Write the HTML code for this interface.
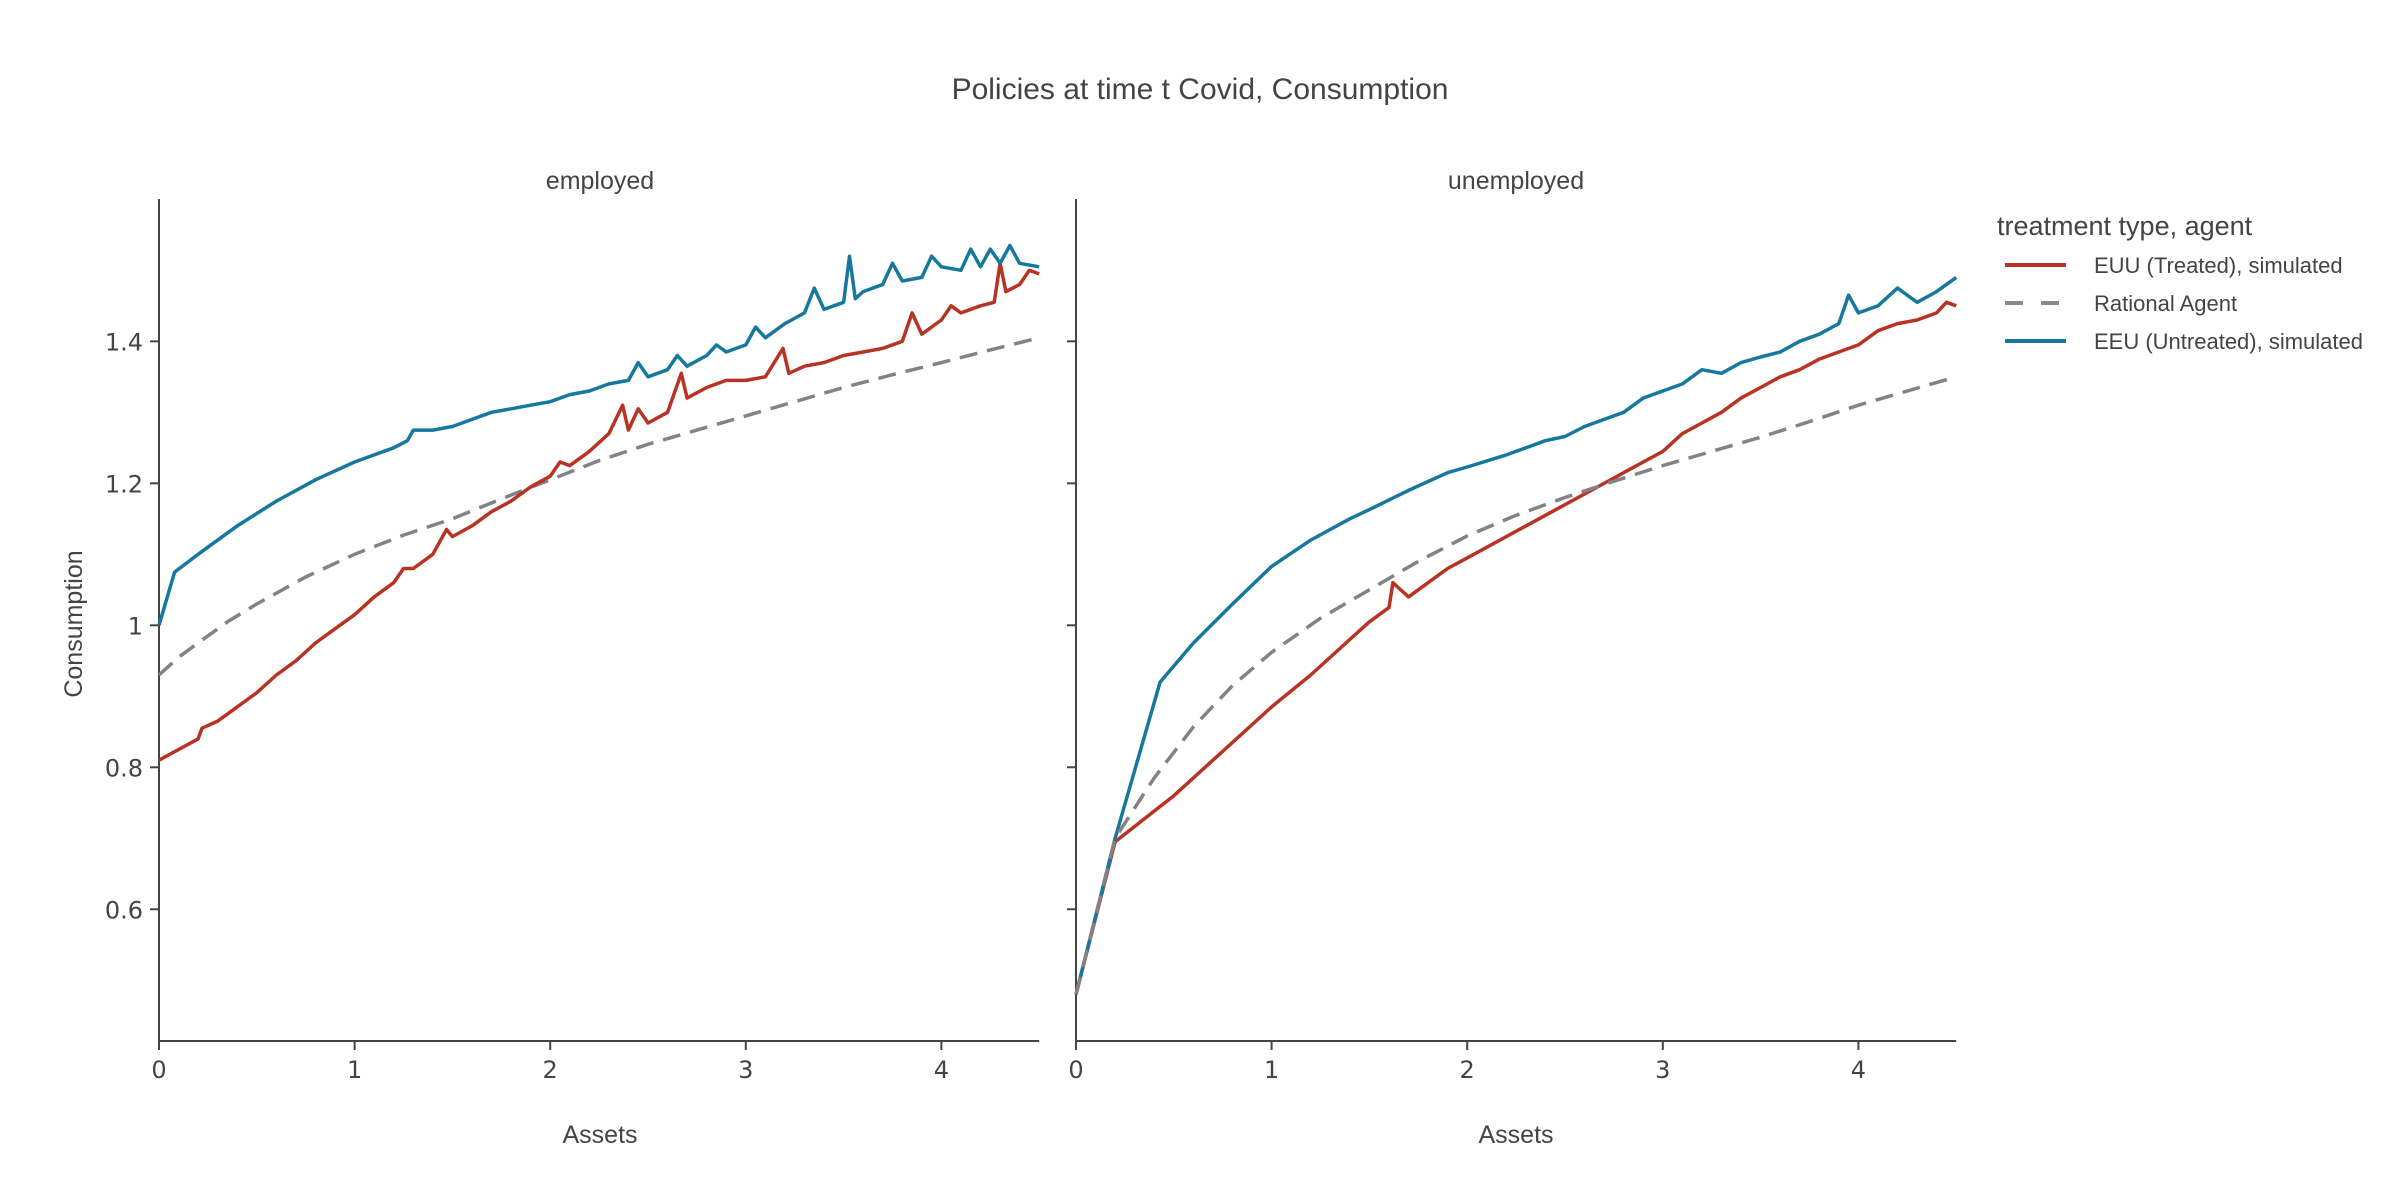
<!DOCTYPE html>
<html><head><meta charset="utf-8">
<style>
html,body{margin:0;padding:0;background:#fff;}
svg{display:block;font-family:"Liberation Sans",sans-serif;}
</style></head>
<body>
<svg id="chart" width="2400" height="1200" viewBox="0 0 2400 1200" xmlns="http://www.w3.org/2000/svg">
<text x="1200" y="99" text-anchor="middle" font-size="30" fill="#444">Policies at time t Covid, Consumption</text>
<text x="600" y="189" text-anchor="middle" font-size="25" fill="#444">employed</text>
<text x="1516" y="189" text-anchor="middle" font-size="25" fill="#444">unemployed</text>
<text x="0" y="0" transform="translate(82,624) rotate(-90)" text-anchor="middle" font-size="25" fill="#444">Consumption</text>
<text x="600" y="1143" text-anchor="middle" font-size="25" fill="#444">Assets</text>
<text x="1516" y="1143" text-anchor="middle" font-size="25" fill="#444">Assets</text>
<g id="legend">
<text x="1997" y="235" font-size="27" fill="#444">treatment type, agent</text>
<g>
<line x1="2005" y1="265" x2="2066" y2="265" stroke="#b83323" stroke-width="4"/>
<text x="2094" y="273" font-size="22" fill="#444">EUU (Treated), simulated</text></g>
<g>
<line x1="2005" y1="303" x2="2066" y2="303" stroke="#8a8a8a" stroke-width="4" stroke-dasharray="18,18"/>
<text x="2094" y="311" font-size="22" fill="#444">Rational Agent</text></g>
<g>
<line x1="2005" y1="341" x2="2066" y2="341" stroke="#17789e" stroke-width="4"/>
<text x="2094" y="349" font-size="22" fill="#444">EEU (Untreated), simulated</text></g>
</g>
</svg>
<script>
// Data
const xTicks = [0,1,2,3,4];
const yTicks = [0.6,0.8,1,1.2,1.4];
const yTickLabels = ["0.6","0.8","1","1.2","1.4"];

const empEUU_x = [0,0.1,0.2,0.22,0.3,0.4,0.5,0.6,0.7,0.8,0.9,1.0,1.1,1.2,1.25,1.3,1.4,1.47,1.5,1.6,1.7,1.8,1.9,2.0,2.05,2.1,2.2,2.3,2.37,2.4,2.45,2.5,2.6,2.67,2.7,2.8,2.9,3.0,3.1,3.19,3.22,3.3,3.4,3.5,3.6,3.7,3.8,3.85,3.9,4.0,4.05,4.1,4.2,4.27,4.3,4.33,4.4,4.45,4.5];
const empEUU_y = [0.81,0.825,0.84,0.855,0.865,0.885,0.905,0.93,0.95,0.975,0.995,1.015,1.04,1.06,1.08,1.08,1.10,1.135,1.125,1.14,1.16,1.175,1.195,1.21,1.23,1.225,1.245,1.27,1.31,1.275,1.305,1.285,1.30,1.355,1.32,1.335,1.345,1.345,1.35,1.39,1.355,1.365,1.37,1.38,1.385,1.39,1.40,1.44,1.41,1.43,1.45,1.44,1.45,1.455,1.51,1.47,1.48,1.50,1.495];

const empRat_x = [0,0.1,0.2,0.35,0.5,0.75,1.0,1.25,1.5,1.75,2.0,2.25,2.5,2.75,3.0,3.25,3.5,3.75,4.0,4.25,4.5];
const empRat_y = [0.93,0.955,0.975,1.005,1.03,1.068,1.10,1.127,1.15,1.178,1.205,1.232,1.255,1.275,1.295,1.315,1.335,1.353,1.37,1.388,1.405];

const empEEU_x = [0,0.08,0.2,0.4,0.6,0.8,1.0,1.1,1.2,1.27,1.3,1.4,1.5,1.6,1.7,1.8,1.9,2.0,2.1,2.2,2.3,2.4,2.45,2.5,2.6,2.65,2.7,2.8,2.85,2.9,3.0,3.05,3.1,3.2,3.3,3.35,3.4,3.5,3.53,3.56,3.6,3.7,3.75,3.8,3.9,3.95,4.0,4.1,4.15,4.2,4.25,4.3,4.35,4.4,4.5];
const empEEU_y = [1.0,1.075,1.10,1.14,1.175,1.205,1.23,1.24,1.25,1.26,1.275,1.275,1.28,1.29,1.30,1.305,1.31,1.315,1.325,1.33,1.34,1.345,1.37,1.35,1.36,1.38,1.365,1.38,1.395,1.385,1.395,1.42,1.405,1.425,1.44,1.475,1.445,1.455,1.52,1.46,1.47,1.48,1.51,1.485,1.49,1.52,1.505,1.50,1.53,1.505,1.53,1.51,1.535,1.51,1.505];

const unEUU_x = [0,0.2,0.5,0.8,1.0,1.2,1.4,1.5,1.6,1.62,1.7,1.8,1.9,2.0,2.2,2.4,2.6,2.8,3.0,3.1,3.2,3.3,3.4,3.5,3.6,3.7,3.8,3.9,4.0,4.1,4.2,4.3,4.4,4.45,4.5];
const unEUU_y = [0.48,0.695,0.76,0.835,0.885,0.93,0.98,1.005,1.025,1.06,1.04,1.06,1.08,1.095,1.125,1.155,1.185,1.215,1.245,1.27,1.285,1.30,1.32,1.335,1.35,1.36,1.375,1.385,1.395,1.415,1.425,1.43,1.44,1.455,1.45];

const unRat_x = [0,0.2,0.4,0.6,0.8,1.0,1.25,1.5,1.75,2.0,2.25,2.5,2.75,3.0,3.25,3.5,3.75,4.0,4.25,4.5];
const unRat_y = [0.48,0.70,0.785,0.857,0.915,0.962,1.01,1.05,1.09,1.126,1.155,1.18,1.203,1.225,1.245,1.265,1.287,1.31,1.33,1.35];

const unEEU_x = [0,0.2,0.43,0.6,0.8,1.0,1.2,1.4,1.5,1.7,1.9,2.0,2.2,2.4,2.5,2.6,2.7,2.8,2.9,3.0,3.1,3.2,3.3,3.4,3.5,3.6,3.7,3.8,3.9,3.95,4.0,4.1,4.2,4.3,4.4,4.5];
const unEEU_y = [0.48,0.70,0.92,0.975,1.03,1.083,1.12,1.15,1.163,1.19,1.215,1.223,1.24,1.26,1.266,1.28,1.29,1.30,1.32,1.33,1.34,1.36,1.355,1.37,1.378,1.385,1.40,1.41,1.425,1.465,1.44,1.45,1.475,1.455,1.47,1.49];

const NS='http://www.w3.org/2000/svg';
const svg=document.getElementById('chart');
const yTop=199, yBot=1041, y1px=625.3, pxPerY=709.9, pxPerX=195.6;
function ys(v){return y1px-(v-1)*pxPerY;}
function mk(tag,attrs,parent){const e=document.createElementNS(NS,tag);for(const k in attrs)e.setAttribute(k,attrs[k]);(parent||svg).appendChild(e);return e;}

function panel(x0,name,showYLabels,series){
  const xs=v=>x0+v*pxPerX;
  const g=mk('g',{});
  
  
  const ya=mk('line',{x1:x0,y1:yTop,x2:x0,y2:yBot,stroke:'#444','stroke-width':2},g);
  
  
  const xa=mk('line',{x1:x0,y1:yBot,x2:xs(4.5),y2:yBot,stroke:'#444','stroke-width':2},g);
  
  
  yTicks.forEach((t,i)=>{
    const tk=mk('line',{x1:x0-9,y1:ys(t),x2:x0,y2:ys(t),stroke:'#444','stroke-width':2},g);
    
    
    if(showYLabels){
      const tl=mk('text',{x:x0-16,y:ys(t)+9,'text-anchor':'end','font-size':24,fill:'#444','font-family':'DejaVu Sans, sans-serif'},g);
      tl.textContent=yTickLabels[i];
      
      
    }
  });
  xTicks.forEach(t=>{
    const tk=mk('line',{x1:xs(t),y1:yBot,x2:xs(t),y2:yBot+9,stroke:'#444','stroke-width':2},g);
    
    
    const tl=mk('text',{x:xs(t),y:yBot+37,'text-anchor':'middle','font-size':24,fill:'#444','font-family':'DejaVu Sans, sans-serif'},g);
    tl.textContent=String(t);
    
    
  });
  series.forEach(s=>{
    const d=s.x.map((v,i)=>(i?'L':'M')+xs(v).toFixed(1)+','+ys(s.y[i]).toFixed(1)).join('');
    const p=mk('path',{d:d,fill:'none',stroke:s.c,'stroke-width':3.5,'stroke-linejoin':'round'},g);
    if(s.dash)p.setAttribute('stroke-dasharray','18,10');
    
    
  });
}
panel(159,'employed',true,[
  {x:empRat_x,y:empRat_y,c:'#838383',dash:true,n:'rational'},
  {x:empEUU_x,y:empEUU_y,c:'#b83323',n:'euu'},
  {x:empEEU_x,y:empEEU_y,c:'#17789e',n:'eeu'}]);
panel(1076,'unemployed',false,[
  {x:unEUU_x,y:unEUU_y,c:'#b83323',n:'euu'},
  {x:unEEU_x,y:unEEU_y,c:'#17789e',n:'eeu'},
  {x:unRat_x,y:unRat_y,c:'#838383',dash:true,n:'rational'}]);
</script>
</body></html>
